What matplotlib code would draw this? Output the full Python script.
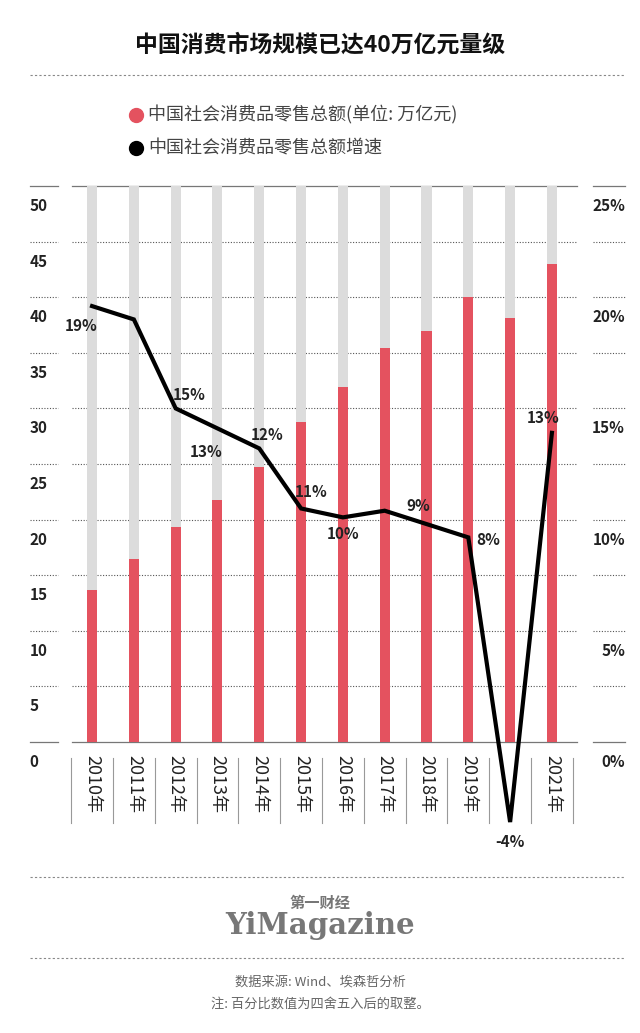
import numpy as np
import matplotlib
matplotlib.use('Agg')
from matplotlib import pyplot as plt
from matplotlib.lines import Line2D

plt.rcParams['font.family'] = ['Noto Sans CJK SC', 'DejaVu Sans']

years = ['2010年', '2011年', '2012年', '2013年', '2014年', '2015年',
         '2016年', '2017年', '2018年', '2019年', '2020年', '2021年']
sales = [13.7, 16.5, 19.3, 21.8, 24.7, 28.8, 31.9, 35.4, 37.0, 40.0, 38.1, 43.0]
growth = [19.6, 19.0, 15.0, 14.1, 13.2, 10.5, 10.1, 10.4, 9.8, 9.2, -3.6, 13.9]
growth_labels = ['19%', '', '15%', '13%', '12%', '11%', '10%', '', '9%', '8%', '-4%', '13%']
label_off = [(-8, -14), (0, 0), (10, 10), (-8, -17), (6, 10), (7, 12), (0, -12), (0, 0),
             (-6, 13), (14, -2), (0, -14), (-6, 11)]
left_ticks = np.arange(0, 51, 5)
right_ticks = np.arange(0, 26, 5)

RED = '#e4525f'
GRAY = '#dcdcdc'
TXT = '#222222'

fig = plt.figure(figsize=(6.4, 10.33), dpi=100)
ax = fig.add_axes([72/640, 1 - 742/1033, 505/640, 556/1033])
x = np.arange(len(years))

ax.bar(x, [50]*len(x), width=0.24, color=GRAY, zorder=1)
ax.bar(x, sales, width=0.24, color=RED, zorder=2)
ax.set_xlim(-0.48, 11.6)
ax.set_ylim(0, 50)
ax.axis('off')

# gridlines, split into three segments
for t in left_ticks:
    ls = '-' if t in (0, 50) else (0, (1, 1.5))
    c = '#777777' if t in (0, 50) else '#555555'
    for a, b in [(-1.49, -0.82), (-0.48, 11.6), (11.98, 12.75)]:
        ax.plot([a, b], [t, t], color=c, lw=0.9 if t in (0, 50) else 0.8,
                ls=ls, clip_on=False, zorder=0.5)
    ax.text(-1.49, t - 1.8, str(t), fontsize=11, fontweight='bold', color=TXT,
            ha='left', va='center')
for t in right_ticks:
    ax.text(12.75, t * 2 - 1.8, f'{t}%', fontsize=11, fontweight='bold', color=TXT,
            ha='right', va='center')

# year labels with separators
for i, y in enumerate(years):
    ax.plot([i - 0.5, i - 0.5], [-1.4, -7.3], color='#999999', lw=0.8, clip_on=False)
    if y != '2020年':
        ax.text(i, -1.2, y, rotation=-90, fontsize=13, color=TXT, ha='center', va='top')
ax.plot([11.5, 11.5], [-1.4, -7.3], color='#999999', lw=0.8, clip_on=False)

ax2 = ax.twinx()
ax2.set_ylim(0, 25)
ax2.axis('off')
ax2.plot(x, growth, color='black', lw=3, clip_on=False, zorder=5,
         solid_joinstyle='miter')
for i, (g, lab) in enumerate(zip(growth, growth_labels)):
    if lab:
        ax2.annotate(lab, (i, g), xytext=label_off[i], textcoords='offset points',
                     ha='center', va='center', fontsize=11, fontweight='bold',
                     color=TXT, zorder=6, annotation_clip=False)

# header
fig.text(0.5, 1 - 45/1033, '中国消费市场规模已达40万亿元量级', ha='center', va='center',
         fontsize=16.5, fontweight='bold', color='#111111')
for yy in (75, 877, 958):
    fig.add_artist(Line2D([30/640, 625/640], [1 - yy/1033]*2, color='#888888',
                          lw=0.8, ls=(0, (2, 2))))
fig.add_artist(Line2D([136/640], [1 - 115/1033], marker='o', color=RED, markersize=10))
fig.text(148/640, 1 - 115/1033, '中国社会消费品零售总额(单位: 万亿元)', va='center',
         fontsize=13, color='#444444')
fig.add_artist(Line2D([136/640], [1 - 148/1033], marker='o', color='black', markersize=10))
fig.text(148/640, 1 - 148/1033, '中国社会消费品零售总额增速', va='center',
         fontsize=13, color='#444444')

# footer
fig.text(0.5, 1 - 903/1033, '第一财经', ha='center', va='center', fontsize=11,
         fontweight='bold', color='#777777')
fig.text(0.5, 1 - 926/1033, 'YiMagazine', ha='center', va='center', fontsize=21,
         fontweight='bold', family='DejaVu Serif', color='#777777')
fig.text(0.5, 1 - 982/1033, '数据来源: Wind、埃森哲分析', ha='center', va='center',
         fontsize=9.5, color='#666666')
fig.text(0.5, 1 - 1004/1033, '注: 百分比数值为四舍五入后的取整。', ha='center', va='center',
         fontsize=9.5, color='#666666')

plt.savefig('out.png', dpi=100, facecolor='white')
